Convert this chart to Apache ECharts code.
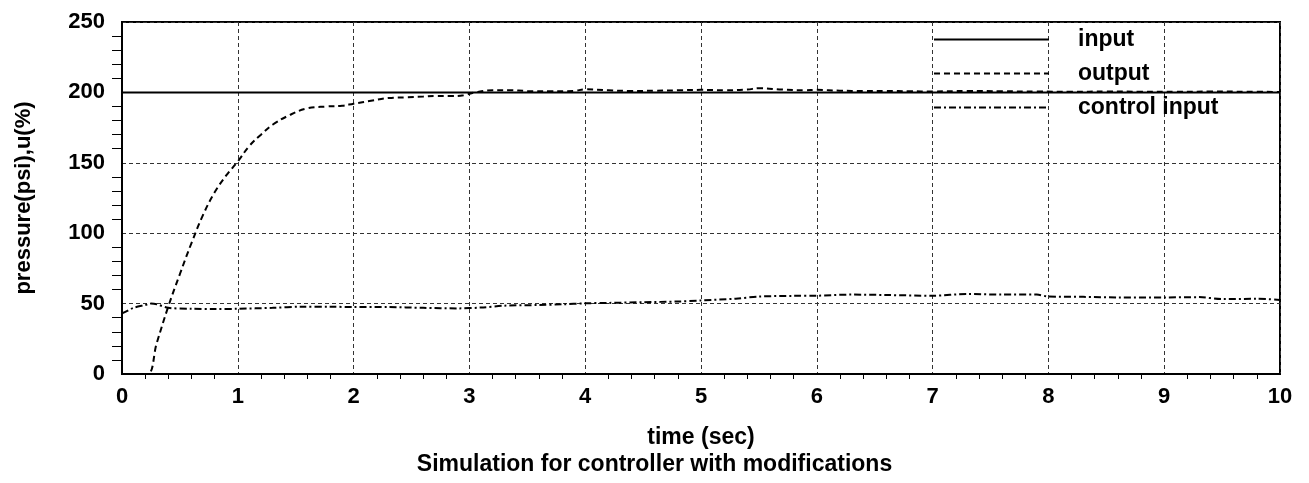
<!DOCTYPE html>
<html>
<head>
<meta charset="utf-8">
<script src="https://cdn.jsdelivr.net/npm/echarts@6/dist/echarts.min.js"></script>
<style>
html,body{margin:0;padding:0;background:#fff;}
#chart{width:1309px;height:483px;}
</style>
</head>
<body>
<div id="chart"></div>
<script>
// ---- data ----
const seriesNames = ['input', 'output', 'control input'];
const xTicks = [0,1,2,3,4,5,6,7,8,9,10];
const yTicks = [0,50,100,150,200,250];

const inputTime = [0, 10];
const inputValue = [200, 200];

const outputTime = [0,0.1,0.22,0.3,0.4,0.5,0.6,0.7,0.8,0.9,1.0,1.1,1.2,1.3,1.45,1.6,1.77,1.9,2.0,2.15,2.3,2.46,2.6,2.7,2.85,2.95,3.05,3.2,3.35,3.5,3.7,3.9,4.0,4.2,4.4,4.6,4.8,5.0,5.2,5.4,5.5,5.7,5.9,6.0,6.2,6.4,6.6,6.8,7.0,7.3,7.6,7.9,8.2,8.5,8.8,9.1,9.4,9.7,10];
const outputValue = [0,0,0,22,48,71,93,113,129,141,151,162,170,177,184,188.7,190,190.5,192,194,196,196.5,197,197.4,197.4,198,200,201.5,201.5,201,200.8,201,202.2,201.5,201,201.2,201.5,201.8,201.5,202,203,202,201.5,201.8,201.2,201,201,200.8,200.7,201,200.8,200.6,200.5,200.6,200.5,200.4,200.6,200.5,200.3];

const controlTime = [0,0.05,0.1,0.2,0.25,0.3,0.4,0.6,0.8,1.0,1.3,1.55,1.8,2.0,2.3,2.6,2.9,3.1,3.3,3.6,3.8,4.0,4.2,4.5,4.8,5.0,5.3,5.5,5.8,6.0,6.3,6.6,7.0,7.3,7.6,7.9,8.0,8.3,8.6,9.0,9.3,9.5,9.8,10];
const controlValue = [43,45,47,49,50,49.5,47,46.3,46.2,46.3,47,47.8,47.8,47.5,47.5,47,46.6,47.2,48.5,49,49.5,50.2,50.5,51,51.5,52.2,53.5,55,55.5,55.6,56.4,56.1,55.6,56.8,56.4,56.4,55,54.8,54.4,54.4,54.6,53.2,53.4,52.6];

const xName = 'time (sec)';
const yName = 'pressure(psi),u(%)';
const subtitle = 'Simulation for controller with modifications';

// ---- build ----
const zip = (a, b) => a.map((v, i) => [v, b[i]]);
const FONT = "'Liberation Sans', Arial, Helvetica, sans-serif";
const chart = echarts.init(document.getElementById('chart'), null, {renderer: 'canvas'});

chart.setOption({
  animation: false,
  backgroundColor: '#fff',
  title: {
    text: subtitle,
    left: 'center',
    top: 453,
    padding: 0,
    textStyle: {fontFamily: FONT, fontWeight: 'bold', fontSize: 23, color: '#000'}
  },
  grid: {
    left: 122, right: 29, top: 22, bottom: 109,
    show: true, borderColor: '#000', borderWidth: 2, backgroundColor: 'transparent'
  },
  legend: {
    orient: 'vertical',
    left: 933, top: 28,
    padding: 0,
    itemWidth: 115, itemHeight: 14, itemGap: 11,
    data: seriesNames,
    itemStyle: {opacity: 0},
    textStyle: {fontFamily: FONT, fontWeight: 'bold', fontSize: 23, color: '#000', padding: [0,0,0,24]}
  },
  xAxis: {
    type: 'value',
    min: 0, max: 10, interval: 1,
    name: xName, nameLocation: 'middle', nameGap: 52,
    nameTextStyle: {fontFamily: FONT, fontWeight: 'bold', fontSize: 23, color: '#000'},
    axisLine: {show: true, onZero: false, lineStyle: {color: '#000', width: 2}},
    axisTick: {show: false},
    minorTick: {show: true, splitNumber: 5, length: 5, lineStyle: {color: '#000', width: 1}},
    axisLabel: {
      margin: 12, fontFamily: FONT, fontWeight: 'bold', fontSize: 22, color: '#000',
      formatter: v => xTicks.includes(v) ? String(v) : ''
    },
    splitLine: {show: true, lineStyle: {color: '#333', width: 1, type: [4, 3]}},
    minorSplitLine: {show: false}
  },
  yAxis: {
    type: 'value',
    min: 0, max: 250, interval: 50,
    name: yName, nameLocation: 'middle', nameGap: 87,
    nameTextStyle: {fontFamily: FONT, fontWeight: 'bold', fontSize: 22, color: '#000'},
    axisLine: {show: true, onZero: false, lineStyle: {color: '#000', width: 2}},
    axisTick: {show: false},
    minorTick: {show: true, splitNumber: 5, length: 10, lineStyle: {color: '#000', width: 1}},
    axisLabel: {
      margin: 17, fontFamily: FONT, fontWeight: 'bold', fontSize: 22, color: '#000',
      formatter: v => yTicks.includes(v) ? String(v) : ''
    },
    splitLine: {show: true, lineStyle: {color: '#333', width: 1, type: [4, 3]}},
    minorSplitLine: {show: false}
  },
  series: [
    {
      name: seriesNames[0], type: 'line', symbol: 'none', showSymbol: false,
      data: zip(inputTime, inputValue),
      lineStyle: {color: '#000', width: 2, type: 'solid'},
      itemStyle: {color: '#000'}, z: 3
    },
    {
      name: seriesNames[1], type: 'line', symbol: 'none', showSymbol: false,
      smooth: 0.4,
      data: zip(outputTime, outputValue),
      lineStyle: {color: '#000', width: 2, type: [6, 4]},
      itemStyle: {color: '#000'}, z: 4
    },
    {
      name: seriesNames[2], type: 'line', symbol: 'none', showSymbol: false,
      smooth: 0.3,
      data: zip(controlTime, controlValue),
      lineStyle: {color: '#000', width: 2, type: [7, 3, 2, 3]},
      itemStyle: {color: '#000'}, z: 4
    }
  ]
});
</script>
</body>
</html>
